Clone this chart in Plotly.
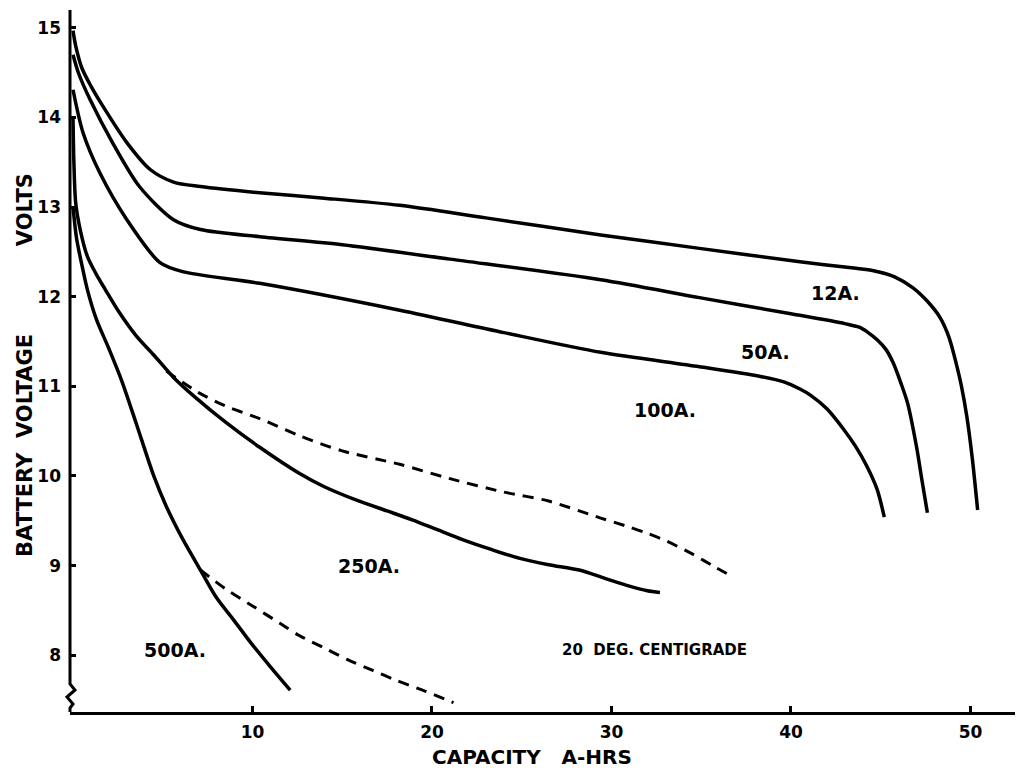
import plotly.graph_objects as go

# ---- data ----
x_12a = [0, 0.15, 0.5, 1.0, 1.5, 3.0, 4.3, 5.6, 7.1, 10.4, 14.0, 18.2, 23.0, 29.4, 34.9, 40.5, 43.5, 44.6, 45.8, 46.8, 47.6, 48.3, 48.8, 49.2, 49.5, 49.8, 50.1, 50.4]
y_12a = [14.97, 14.8, 14.55, 14.35, 14.18, 13.72, 13.42, 13.28, 13.23, 13.16, 13.1, 13.02, 12.88, 12.69, 12.54, 12.39, 12.32, 12.29, 12.22, 12.10, 11.95, 11.77, 11.55, 11.26, 11.0, 10.66, 10.2, 9.62]

x_50a = [0, 0.3, 0.95, 2.2, 3.7, 5.6, 7.1, 10.4, 15.0, 21.0, 29.4, 34.9, 40.0, 43.0, 43.8, 44.3, 44.8, 45.3, 45.7, 46.1, 46.5, 47.0, 47.3, 47.6]
y_50a = [14.7, 14.5, 14.2, 13.72, 13.23, 12.86, 12.75, 12.67, 12.58, 12.42, 12.19, 11.99, 11.81, 11.70, 11.66, 11.6, 11.52, 11.41, 11.26, 11.05, 10.81, 10.32, 9.95, 9.59]

x_100a = [0, 0.56, 1.5, 3.0, 4.85, 6.1, 10.4, 18.2, 24.0, 29.4, 34.9, 38.3, 39.6, 40.5, 41.1, 42.0, 42.9, 43.6, 44.2, 44.8, 45.2]
y_100a = [14.31, 13.83, 13.38, 12.86, 12.38, 12.28, 12.15, 11.85, 11.6, 11.38, 11.22, 11.11, 11.05, 10.97, 10.9, 10.75, 10.53, 10.33, 10.12, 9.85, 9.54]

x_250a = [0, 0.05, 0.15, 0.4, 0.8, 1.3, 1.8, 2.5, 3.5, 4.5, 5.6, 6.8, 8.5, 10.4, 12.6, 14.0, 15.8, 17.5, 18.9, 20.3, 21.7, 23.3, 24.9, 26.5, 28.2, 29.6, 31.0, 32.0, 32.7]
y_250a = [14.0, 13.5, 13.05, 12.75, 12.45, 12.25, 12.08, 11.85, 11.57, 11.35, 11.1, 10.88, 10.6, 10.32, 10.03, 9.88, 9.73, 9.61, 9.51, 9.4, 9.29, 9.18, 9.08, 9.01, 8.95, 8.86, 8.77, 8.72, 8.70]

x_250a_dash = [5.2, 7.0, 8.5, 10.4, 12.6, 15.0, 18.2, 21.0, 24.0, 26.5, 29.4, 31.0, 32.0, 33.1, 34.5, 35.8, 36.8]
y_250a_dash = [11.17, 10.93, 10.78, 10.64, 10.45, 10.28, 10.13, 9.97, 9.82, 9.72, 9.53, 9.43, 9.36, 9.27, 9.13, 8.98, 8.87]

x_500a = [0, 0.2, 0.5, 0.8, 1.3, 2.0, 2.7, 3.5, 4.5, 5.2, 6.1, 7.1, 8.0, 9.0, 9.9, 11.0, 12.1]
y_500a = [13.0, 12.65, 12.35, 12.08, 11.75, 11.42, 11.07, 10.6, 10.0, 9.66, 9.3, 8.95, 8.64, 8.38, 8.14, 7.87, 7.61]

x_500a_dash = [7.1, 8.5, 10.0, 11.5, 12.6, 14.0, 15.3, 16.7, 18.0, 19.6, 21.2]
y_500a_dash = [8.95, 8.74, 8.55, 8.36, 8.22, 8.08, 7.95, 7.83, 7.72, 7.6, 7.47]

x_ticks = [10, 20, 30, 40, 50]
y_ticks = [8, 9, 10, 11, 12, 13, 14, 15]

labels = ["12A.", "50A.", "100A.", "250A.", "500A.", "20  DEG. CENTIGRADE"]
label_x = [42.5, 38.6, 33.0, 16.5, 5.7, 32.4]
label_y = [12.04, 11.38, 10.74, 9.0, 8.06, 8.06]
label_size = [19, 19, 19, 19, 19, 15]

x_title = "CAPACITY   A-HRS"
y_title = "BATTERY  VOLTAGE            VOLTS"

X_RANGE = [-0.167, 52.76]
Y_RANGE = [7.366, 15.2]

BOLD = dict(family="DejaVu Sans, Liberation Sans, sans-serif", color="black", weight="bold")

fig = go.Figure()
solid = dict(color="black", width=3.5)
dashed = dict(color="black", width=3, dash="11px,8px")

for xs, ys, ln in [
    (x_12a, y_12a, solid), (x_50a, y_50a, solid), (x_100a, y_100a, solid),
    (x_250a, y_250a, solid), (x_250a_dash, y_250a_dash, dashed),
    (x_500a, y_500a, solid), (x_500a_dash, y_500a_dash, dashed),
]:
    fig.add_trace(go.Scatter(x=xs, y=ys, mode="lines", line=dict(shape="spline", smoothing=0.8, **ln),
                             hoverinfo="skip", showlegend=False))

for t, lx, ly, s in zip(labels, label_x, label_y, label_size):
    fig.add_annotation(x=lx, y=ly, text=t, showarrow=False, xanchor="center", yanchor="middle",
                       font=dict(size=s, **BOLD))

# page body adds an 8px offset; work in page pixels
OFF = 8
FW, FH = 1023 - OFF, 776 - OFF
L, T, R, B = 70, 10, 1020, 712          # plot area in page pixels
W, H = R - L, B - T
def px(xp):
    return (xp - L) / W
def py(yp):
    return (B - yp) / H

# y axis drawn as a shape with a break squiggle near the bottom
pts = [(70, T), (70, 684), (75, 690), (67, 697), (73, 704), (70, 708), (70, B)]
path = "M " + " L ".join(f"{px(a):.5f},{py(b):.5f}" for a, b in pts)
fig.add_shape(type="path", path=path, xref="paper", yref="paper",
              line=dict(color="black", width=3))

# axis titles placed as annotations
fig.add_annotation(x=px(532), y=py(757), xref="paper", yref="paper", text=x_title,
                   showarrow=False, xanchor="center", yanchor="middle", font=dict(size=20, **BOLD))
fig.add_annotation(x=px(25), y=py(365), xref="paper", yref="paper", text=y_title,
                   showarrow=False, xanchor="center", yanchor="middle", textangle=-90,
                   font=dict(size=21, **BOLD))

fig.update_layout(
    width=FW, height=FH,
    margin=dict(l=L - OFF, r=FW - (R - OFF), t=T - OFF, b=FH - (B - OFF)),
    paper_bgcolor="white", plot_bgcolor="white",
    xaxis=dict(range=X_RANGE, tickvals=x_ticks, ticks="inside", ticklen=6, tickwidth=2.5,
               tickcolor="black", showline=True, linecolor="black", linewidth=3,
               showgrid=False, zeroline=False, tickfont=dict(size=17, **BOLD), automargin=False,
               ticklabelstandoff=3),
    yaxis=dict(range=Y_RANGE, tickvals=y_ticks, ticks="inside", ticklen=6, tickwidth=2.5,
               tickcolor="black", showline=False, showgrid=False, zeroline=False,
               tickfont=dict(size=17, **BOLD), ticklabelstandoff=8, automargin=False),
)

fig.write_html("out.html")
